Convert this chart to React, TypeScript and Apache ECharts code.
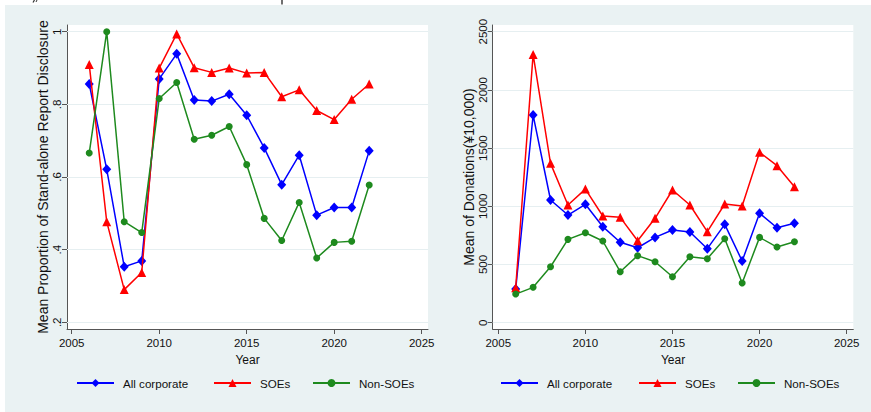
import React, { useEffect, useRef } from "react";
import * as echarts from "echarts";

const years = [2006, 2007, 2008, 2009, 2010, 2011, 2012, 2013, 2014, 2015, 2016, 2017, 2018, 2019, 2020, 2021, 2022];

// Left panel: mean proportion of stand-alone report disclosure
const propAll = [0.856, 0.621, 0.353, 0.369, 0.870, 0.939, 0.812, 0.809, 0.828, 0.770, 0.680, 0.579, 0.660, 0.495, 0.516, 0.516, 0.672];
const propSOE = [0.910, 0.477, 0.290, 0.337, 0.900, 0.994, 0.901, 0.888, 0.900, 0.886, 0.888, 0.821, 0.840, 0.783, 0.758, 0.814, 0.856];
const propNonSOE = [0.666, 1.000, 0.477, 0.447, 0.816, 0.860, 0.704, 0.715, 0.739, 0.634, 0.486, 0.425, 0.530, 0.377, 0.420, 0.423, 0.578];

// Right panel: mean of donations (10,000 yuan)
const donAll = [289, 1784, 1054, 925, 1017, 825, 691, 644, 733, 796, 779, 636, 845, 530, 940, 816, 854];
const donSOE = [301, 2305, 1369, 1011, 1148, 917, 905, 704, 897, 1140, 1011, 782, 1020, 1002, 1464, 1349, 1168];
const donNonSOE = [246, 304, 481, 716, 773, 702, 438, 576, 524, 395, 567, 550, 722, 341, 733, 650, 696];

const xTicks = [2005, 2010, 2015, 2020, 2025];
const propTicks = [0.2, 0.4, 0.6, 0.8, 1.0];
const propTickLabels = [".2", ".4", ".6", ".8", "1"];
const donTicks = [0, 500, 1000, 1500, 2000, 2500];

const seriesNames = ["All corporate", "SOEs", "Non-SOEs"];
const colors = ["#0000ff", "#ff0000", "#1e8a1e"];
const symbols = ["diamond", "triangle", "circle"];
const symbolSizes: any[] = [[9, 10], 9, 7];

const FONT = "Liberation Sans, Arial, Helvetica, sans-serif";

export default function App() {
  const ref = useRef<HTMLDivElement>(null);
  useEffect(() => {
    if (!ref.current) return;
    const chart = echarts.init(ref.current, null, { renderer: "svg" });

    const pair = (vals: number[]) => years.map((y, i) => [y, vals[i]]);

    const xAxisBase = (gridIndex: number, min: number, max: number) => ({
      type: "value",
      gridIndex,
      min,
      max,
      name: "Year",
      nameLocation: "middle",
      nameGap: 21,
      nameTextStyle: { fontFamily: FONT, fontSize: 12, color: "#111" },
      axisLine: { show: true, onZero: false, lineStyle: { color: "#555", width: 1 } },
      axisTick: { show: true, length: 5, customValues: xTicks, lineStyle: { color: "#555" } },
      axisLabel: {
        customValues: xTicks,
        margin: 8,
        fontFamily: FONT,
        fontSize: 11.5,
        color: "#111",
        formatter: (v: number) => String(Math.round(v)),
      },
      splitLine: { show: false },
    });

    const yAxisBase = (gridIndex: number, min: number, max: number, ticks: number[], fmt: (v: number) => string, name: string, nameGap: number) => ({
      type: "value",
      gridIndex,
      min,
      max,
      name,
      nameLocation: "middle",
      nameRotate: 90,
      nameGap,
      nameTextStyle: { fontFamily: FONT, fontSize: 14, color: "#111" },
      axisLine: { show: true, onZero: false, lineStyle: { color: "#555", width: 1 } },
      axisTick: { show: true, length: 5, customValues: ticks, lineStyle: { color: "#555" } },
      axisLabel: {
        customValues: ticks,
        rotate: 90,
        margin: 4,
        fontFamily: FONT,
        fontSize: 11.5,
        color: "#111",
        formatter: fmt,
      },
      splitLine: { show: false },
    });

    const gridLines = (ticks: number[]) => ({
      silent: true,
      symbol: ["none", "none"],
      label: { show: false },
      lineStyle: { color: "#e6eff1", width: 1.2, type: "solid" },
      emphasis: { disabled: true },
      data: ticks.map((t) => ({ yAxis: t })),
      z: 1,
    });

    const makeSeries = (gridIdx: number, sets: number[][], ticks: number[]) =>
      sets.map((vals, i) => ({
        type: "line",
        name: seriesNames[i],
        xAxisIndex: gridIdx,
        yAxisIndex: gridIdx,
        data: pair(vals),
        symbol: symbols[i],
        symbolSize: symbolSizes[i],
        showSymbol: true,
        color: colors[i],
        itemStyle: { color: colors[i] },
        lineStyle: { color: colors[i], width: 1.5 },
        z: 3 + i,
        markLine: i === 0 ? gridLines(ticks) : undefined,
      }));

    const legendAt = (left: number, name: string) => ({
      left,
      top: 377,
      itemWidth: 37,
      itemHeight: 10,
      itemGap: 0,
      padding: 0,
      data: [name],
      textStyle: { fontFamily: FONT, fontSize: 11.6, color: "#111", padding: [0, 0, 0, 4] },
      selectedMode: false,
    });

    const option: any = {
      animation: false,
      graphic: [
        { type: "rect", shape: { x: 5, y: 5, width: 866, height: 407 }, style: { fill: "#eaf2f3" }, z: -10 },
        // remnants of a caption line cropped off above the figure
        { type: "line", shape: { x1: 34.5, y1: 0, x2: 33, y2: 2.5 }, style: { stroke: "#333", lineWidth: 1.2 }, z: -5 },
        { type: "line", shape: { x1: 37, y1: 0, x2: 36, y2: 2 }, style: { stroke: "#333", lineWidth: 1 }, z: -5 },
        { type: "line", shape: { x1: 282, y1: 0, x2: 282, y2: 4.5 }, style: { stroke: "#333", lineWidth: 1.4 }, z: -5 },
      ],
      grid: [
        { left: 67, top: 25, width: 361, height: 304, show: true, backgroundColor: "#ffffff", borderWidth: 0 },
        { left: 492.7, top: 25, width: 360.6, height: 304, show: true, backgroundColor: "#ffffff", borderWidth: 0 },
      ],
      xAxis: [xAxisBase(0, 2004.73, 2025.36), xAxisBase(1, 2004.68, 2025.38)],
      yAxis: [
        yAxisBase(0, 0.1815, 1.0185, propTicks, (v: number) => {
          const idx = propTicks.findIndex((t) => Math.abs(t - v) < 1e-6);
          return idx >= 0 ? propTickLabels[idx] : "";
        }, "Mean Proportion of Stand-alone Report Disclosure", 17),
        yAxisBase(1, -54, 2557.6, donTicks, (v: number) => String(Math.round(v)), "Mean of Donations(¥10,000)", 15),
      ],
      legend: [
        legendAt(76, seriesNames[0]),
        legendAt(213, seriesNames[1]),
        legendAt(312, seriesNames[2]),
        legendAt(500, seriesNames[0]),
        legendAt(638, seriesNames[1]),
        legendAt(737, seriesNames[2]),
      ],
      series: [
        ...makeSeries(0, [propAll, propSOE, propNonSOE], propTicks),
        ...makeSeries(1, [donAll, donSOE, donNonSOE], donTicks),
      ],
    };
    chart.setOption(option);
    return () => chart.dispose();
  }, []);

  return (
    <div
      ref={ref}
      style={{ position: "fixed", left: 0, top: 0, width: 871, height: 412, background: "#ffffff" }}
    />
  );
}
